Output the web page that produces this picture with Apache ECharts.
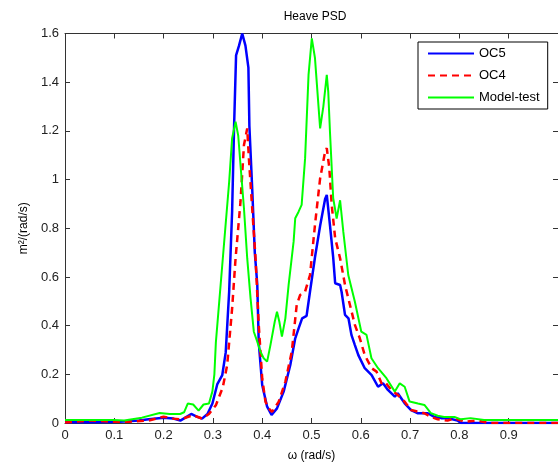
<!DOCTYPE html>
<html>
<head>
<meta charset="utf-8">
<script src="https://cdn.jsdelivr.net/npm/echarts@6/dist/echarts.min.js"></script>
<style>html,body{margin:0;padding:0;background:#fff}#c{width:558px;height:467px}</style>
</head>
<body>
<div id="c"></div>
<script>
// ---- data ----
const seriesNames = ['OC5', 'OC4', 'Model-test'];

const omegaOC5 = [0,0.05,0.1,0.127,0.15,0.17,0.2,0.22,0.234,0.244,0.256,0.267,0.278,0.289,0.299,0.309,0.319,0.326,0.333,0.339,0.343,0.347,0.353,0.3595,0.366,0.372,0.374,0.38,0.385,0.39,0.393,0.4,0.41,0.419,0.43,0.4435,0.457,0.467,0.474,0.481,0.49,0.497,0.507,0.5175,0.5276,0.531,0.5376,0.544,0.548,0.558,0.561,0.568,0.575,0.581,0.588,0.595,0.608,0.622,0.635,0.645,0.655,0.669,0.675,0.689,0.702,0.716,0.736,0.749,0.763,0.776,0.796,0.803,0.85,1.0];
const psdOC5 = [0.003,0.003,0.004,0.007,0.01,0.015,0.022,0.018,0.01,0.022,0.037,0.026,0.018,0.037,0.08,0.16,0.197,0.29,0.54,0.87,1.22,1.51,1.55,1.6,1.55,1.46,1.22,0.95,0.7,0.57,0.33,0.156,0.067,0.033,0.06,0.129,0.238,0.348,0.39,0.43,0.44,0.54,0.68,0.81,0.92,0.937,0.81,0.68,0.574,0.567,0.539,0.444,0.43,0.362,0.32,0.279,0.225,0.197,0.149,0.163,0.136,0.108,0.122,0.081,0.053,0.04,0.04,0.025,0.02,0.02,0.01,0.0,0.0,0.0];

const omegaOC4 = [0,0.05,0.1,0.13,0.17,0.2,0.22,0.234,0.26,0.278,0.292,0.306,0.32,0.329,0.339,0.346,0.356,0.363,0.3696,0.373,0.3797,0.3865,0.393,0.4,0.4066,0.413,0.42,0.4335,0.447,0.46,0.47,0.477,0.487,0.497,0.507,0.5175,0.5276,0.531,0.536,0.541,0.548,0.558,0.568,0.578,0.588,0.598,0.608,0.622,0.632,0.642,0.6485,0.662,0.675,0.689,0.702,0.716,0.729,0.7425,0.756,0.776,0.79,0.81,0.837,0.86,1.0];
const psdOC4 = [0.002,0.01,0.005,0.005,0.01,0.026,0.018,0.015,0.032,0.018,0.037,0.073,0.146,0.238,0.471,0.677,0.909,1.142,1.21,1.087,0.882,0.677,0.403,0.184,0.0875,0.06,0.046,0.0875,0.17,0.293,0.485,0.526,0.54,0.608,0.813,1.005,1.115,1.129,1.05,0.896,0.759,0.677,0.567,0.485,0.403,0.348,0.279,0.225,0.211,0.163,0.17,0.136,0.115,0.0875,0.053,0.047,0.04,0.025,0.015,0.01,0.02,0.005,0.01,0.0,0.0];

const omegaModel = [0,0.05,0.1,0.12,0.156,0.192,0.2125,0.2335,0.2415,0.249,0.26,0.271,0.281,0.292,0.299,0.303,0.306,0.319,0.333,0.339,0.346,0.3514,0.356,0.363,0.3696,0.3764,0.383,0.39,0.3965,0.403,0.41,0.4167,0.4254,0.43,0.4348,0.44,0.447,0.4536,0.4637,0.467,0.4738,0.48,0.487,0.494,0.5006,0.507,0.5175,0.524,0.531,0.534,0.5376,0.544,0.551,0.558,0.5645,0.5746,0.588,0.601,0.6116,0.6216,0.635,0.652,0.669,0.679,0.689,0.699,0.716,0.729,0.7425,0.756,0.769,0.79,0.803,0.8226,0.85,1.0];
const psdModel = [0.012,0.012,0.012,0.01,0.022,0.041,0.037,0.037,0.044,0.08,0.076,0.051,0.076,0.08,0.13,0.2,0.33,0.649,0.991,1.17,1.238,1.18,1.06,0.882,0.677,0.512,0.375,0.334,0.293,0.266,0.252,0.32,0.416,0.457,0.416,0.355,0.43,0.567,0.745,0.841,0.868,0.896,1.087,1.43,1.58,1.5,1.21,1.3,1.43,1.36,1.19,0.924,0.84,0.915,0.786,0.608,0.498,0.375,0.362,0.266,0.225,0.184,0.129,0.163,0.149,0.088,0.08,0.074,0.04,0.03,0.025,0.025,0.015,0.02,0.012,0.012];

const xRange = [0, 1];
const yRange = [0, 1.6];
// ---- chart ----
const zip = (xs, ys) => xs.map((x, i) => [x, ys[i]]);
const FONT = 'Liberation Sans, Arial, sans-serif';
const axisCol = '#333';
const chart = echarts.init(document.getElementById('c'), null, {renderer: 'canvas'});

const baseAxis = {
  axisLine: {show: true, onZero: false, lineStyle: {color: axisCol, width: 1}},
  axisTick: {show: true, inside: true, length: 5, lineStyle: {color: axisCol}},
  splitLine: {show: false}
};

chart.setOption({
  backgroundColor: '#fff',
  animation: false,
  title: {
    text: 'Heave PSD', left: 310, top: 6, textAlign: 'center',
    textStyle: {fontFamily: FONT, fontSize: 12, fontWeight: 'normal', color: '#000'}
  },
  grid: {left: 65, right: -3, top: 33.5, bottom: 44, containLabel: false},
  legend: {
    data: seriesNames, orient: 'vertical', left: 418, top: 42,
    itemWidth: 46, itemHeight: 12, itemGap: 9,
    padding: [5, 8, 5, 9],
    borderColor: '#000', borderWidth: 1, backgroundColor: '#fff',
    itemStyle: {opacity: 0},
    textStyle: {fontFamily: FONT, fontSize: 13, color: '#000'}
  },
  xAxis: [
    Object.assign({}, baseAxis, {
      type: 'value', min: xRange[0], max: xRange[1], interval: 0.1, position: 'bottom',
      name: 'ω (rad/s)', nameLocation: 'middle', nameGap: 27,
      nameTextStyle: {fontFamily: FONT, fontSize: 12, color: '#000'},
      axisLabel: {show: true, showMaxLabel: false, margin: 6, fontFamily: FONT, fontSize: 13, color: '#222',
        formatter: v => String(Math.round(v * 10) / 10)}
    }),
    Object.assign({}, baseAxis, {
      type: 'value', min: xRange[0], max: xRange[1], interval: 0.1, position: 'top',
      axisLabel: {show: false}
    })
  ],
  yAxis: [
    Object.assign({}, baseAxis, {
      type: 'value', min: yRange[0], max: yRange[1], interval: 0.2, position: 'left',
      name: 'm²/(rad/s)', nameLocation: 'middle', nameGap: 35, nameRotate: 90,
      nameTextStyle: {fontFamily: FONT, fontSize: 12, color: '#000'},
      axisLabel: {show: true, margin: 6, fontFamily: FONT, fontSize: 13, color: '#222',
        formatter: v => String(Math.round(v * 10) / 10)}
    }),
    Object.assign({}, baseAxis, {
      type: 'value', min: yRange[0], max: yRange[1], interval: 0.2, position: 'right',
      axisLabel: {show: false}
    })
  ],
  series: [
    {name: 'OC5', type: 'line', data: zip(omegaOC5, psdOC5), showSymbol: false, symbol: 'none',
     lineStyle: {color: '#0000ff', width: 2.5}, itemStyle: {color: '#0000ff'}},
    {name: 'OC4', type: 'line', data: zip(omegaOC4, psdOC4), showSymbol: false, symbol: 'none',
     lineStyle: {color: '#ff0000', width: 2.5, type: [7, 5]}, itemStyle: {color: '#ff0000'}},
    {name: 'Model-test', type: 'line', data: zip(omegaModel, psdModel), showSymbol: false, symbol: 'none',
     lineStyle: {color: '#00ff00', width: 2}, itemStyle: {color: '#00ff00'}}
  ]
});
</script>
</body>
</html>
